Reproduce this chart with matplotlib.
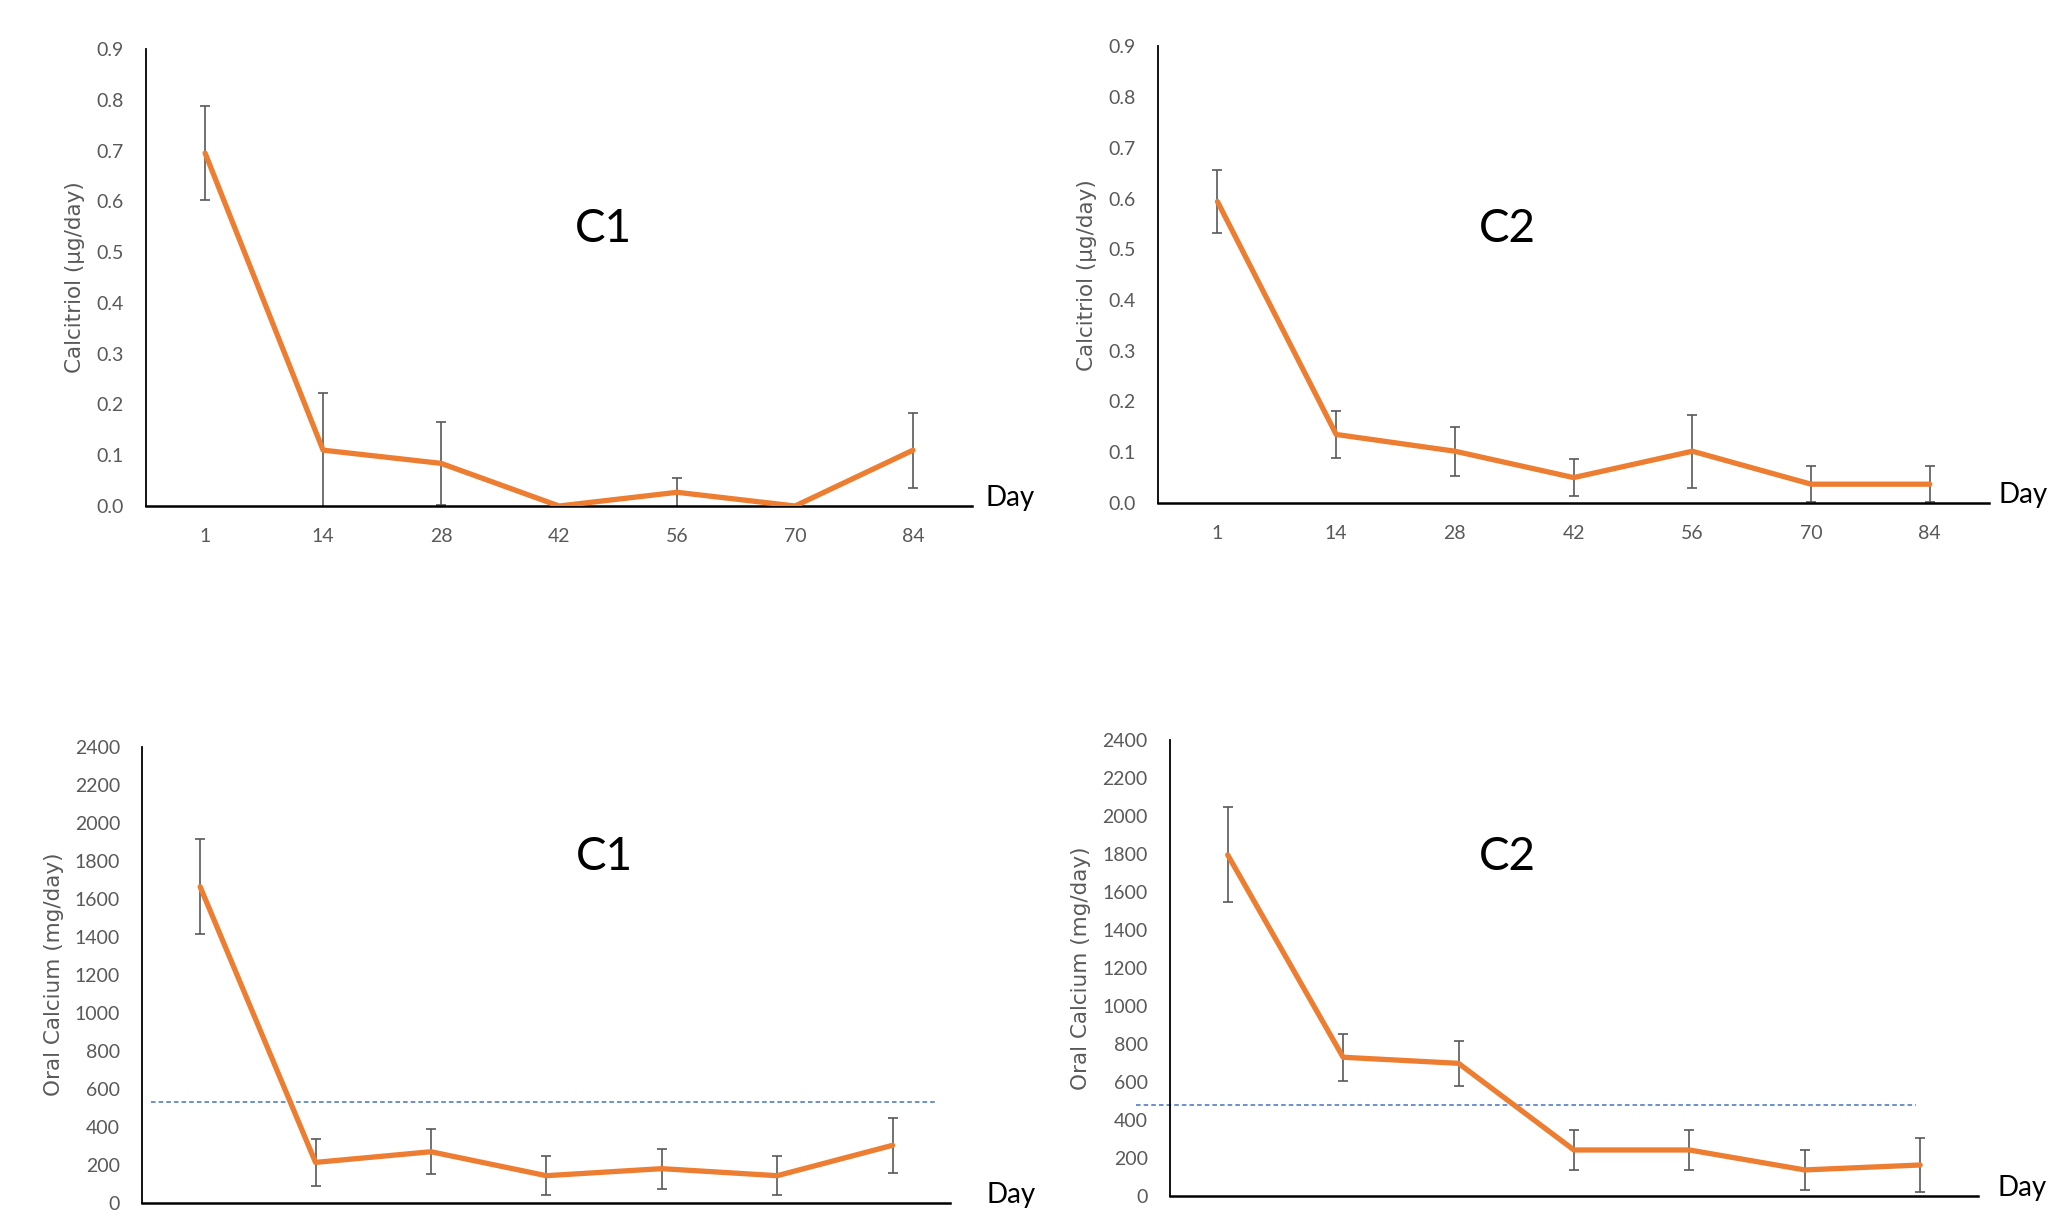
import matplotlib as mpl
mpl.use('Agg')

import matplotlib.pyplot as plt

days = ["1", "14", "28", "42", "56", "70", "84"]

# calcitriol (ug/day)
calc_c1 = [0.695, 0.110, 0.084, 0.0, 0.027, 0.0, 0.110]
calc_c1_err = [0.092, 0.112, 0.082, 0.0, 0.028, 0.0, 0.074]
calc_c2 = [0.594, 0.135, 0.102, 0.050, 0.102, 0.037, 0.037]
calc_c2_err = [0.062, 0.046, 0.048, 0.037, 0.072, 0.036, 0.036]

# oral calcium (mg/day)
oral_c1 = [1663, 212, 268, 142, 179, 142, 302]
oral_c1_err = [250, 125, 118, 103, 105, 103, 145]
oral_c2 = [1795, 730, 698, 242, 242, 137, 163]
oral_c2_err = [250, 125, 118, 104, 107, 104, 143]
ref_c1 = 532
ref_c2 = 477

ORANGE = "#ED7D31"
GREY = "#595959"
BLUE = "#4472C4"
NUM_FONT = "Lato"

fig = plt.figure(figsize=(20.49, 12.19), dpi=100)


def draw(rect, vals, errs, tag, tag_pos, ylabel, ymax, ystep, fmt, show_x,
         day_off, ref=None, ref_span=None):
    ax = fig.add_axes(rect)
    x = list(range(len(vals)))
    ax.errorbar(x, vals, yerr=errs, fmt="none", ecolor=GREY, elinewidth=1.2,
                capsize=3.5, capthick=1.2, zorder=2)
    ax.plot(x, vals, color=ORANGE, lw=3.8, solid_capstyle="round",
            solid_joinstyle="round", zorder=3)
    if ref is not None:
        ax.axhline(ref, xmin=ref_span[0], xmax=ref_span[1], color=BLUE,
                   lw=1.1, ls=(0, (3, 2)), clip_on=False, zorder=1)
    ax.set_xlim(-0.5, len(vals) - 0.5)
    ax.set_ylim(0, ymax)
    n = int(round(ymax / ystep))
    yt = [i * ystep for i in range(n + 1)]
    ax.set_yticks(yt)
    ax.set_yticklabels([fmt.format(v) for v in yt], color=GREY,
                       fontsize=14, family=NUM_FONT)
    if show_x:
        ax.set_xticks(x)
        ax.set_xticklabels(days, color=GREY, fontsize=14, family=NUM_FONT)
        ax.tick_params(axis="x", pad=16)
    else:
        ax.set_xticks([])
    ax.tick_params(length=0)
    ax.tick_params(axis="y", pad=16)
    for s in ["top", "right"]:
        ax.spines[s].set_visible(False)
    ax.spines["left"].set_linewidth(1.3)
    ax.spines["bottom"].set_linewidth(1.8)
    ax.set_ylabel(ylabel, color=GREY, fontsize=15.5, labelpad=8)
    ax.annotate("Day", xy=(1, 0), xycoords="axes fraction", xytext=(day_off, 0),
                textcoords="offset points", ha="left", va="baseline",
                fontsize=20, family=NUM_FONT, annotation_clip=False)
    ax.text(tag_pos[0], tag_pos[1], tag, transform=ax.transAxes, ha="center",
            va="center", fontsize=33, family=NUM_FONT)
    return ax


draw([0.0713, 0.5849, 0.4031, 0.3749], calc_c1, calc_c1_err, "C1", (0.554, 0.606),
     "Calcitriol (\u00b5g/day)", 0.9, 0.1, "{:.1f}", True, 10)
draw([0.5652, 0.5874, 0.4056, 0.3746], calc_c2, calc_c2_err, "C2", (0.42, 0.60),
     "Calcitriol (\u00b5g/day)", 0.9, 0.1, "{:.1f}", True, 7)
draw([0.0695, 0.0134, 0.3943, 0.3741], oral_c1, oral_c1_err, "C1", (0.572, 0.758),
     "Oral Calcium (mg/day)", 2400, 200, "{:.0f}", False, 26, ref_c1, (0.011, 0.981))
draw([0.5710, 0.0189, 0.3943, 0.3741], oral_c2, oral_c2_err, "C2", (0.417, 0.743),
     "Oral Calcium (mg/day)", 2400, 200, "{:.0f}", False, 14, ref_c2, (-0.042, 0.923))

fig.savefig("out.png", dpi=100)
